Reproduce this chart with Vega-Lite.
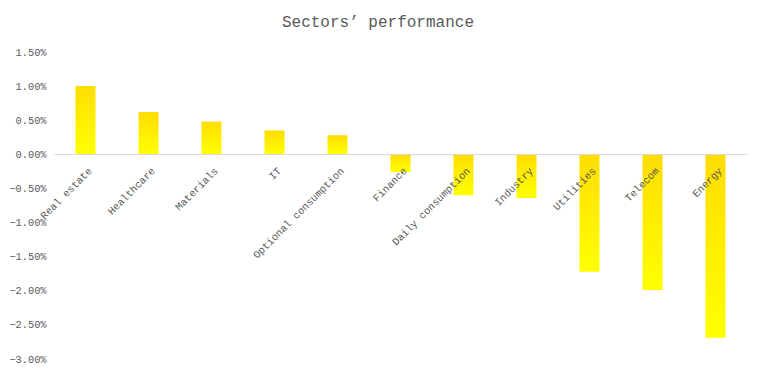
{
  "$schema": "https://vega.github.io/schema/vega-lite/v6.json",
  "autosize": "none",
  "width": 693,
  "height": 307,
  "padding": {"left": 54, "top": 52, "right": 15, "bottom": 16},
  "background": "#ffffff",
  "config": {"view": {"stroke": null}},
  "title": {
    "text": "Sectors’ performance",
    "font": "Liberation Mono",
    "fontSize": 16,
    "fontWeight": "normal",
    "color": "#595959",
    "anchor": "middle",
    "frame": "bounds",
    "offset": 17
  },
  "data": {
    "values": [
      {"sector": "Real estate", "value": 0.0100},
      {"sector": "Healthcare", "value": 0.0062},
      {"sector": "Materials", "value": 0.0048},
      {"sector": "IT", "value": 0.0035},
      {"sector": "Optional consumption", "value": 0.0028},
      {"sector": "Finance", "value": -0.0026},
      {"sector": "Daily consumption", "value": -0.0060},
      {"sector": "Industry", "value": -0.0064},
      {"sector": "Utilities", "value": -0.0172},
      {"sector": "Telecom", "value": -0.0199},
      {"sector": "Energy", "value": -0.0269}
    ]
  },
  "mark": {
    "type": "bar",
    "width": 20,
    "color": {
      "gradient": "linear",
      "x1": 0, "y1": 0, "x2": 0, "y2": 1,
      "stops": [
        {"offset": 0, "color": "#FFDD00"},
        {"offset": 1, "color": "#FFFF00"}
      ]
    }
  },
  "encoding": {
    "x": {
      "field": "sector",
      "type": "nominal",
      "sort": null,
      "scale": {"paddingInner": 0, "paddingOuter": 0},
      "axis": {
        "title": null,
        "offset": -205,
        "domainColor": "#d9d9d9",
        "domainWidth": 1,
        "ticks": false,
        "labelAngle": -45,
        "labelAlign": "right",
        "labelBaseline": "middle",
        "labelPadding": 15,
        "labelOffset": 5,
        "labelFont": "Liberation Mono",
        "labelFontSize": 10.3,
        "labelColor": "#595959",
        "labelOverlap": false,
        "labelLimit": 0,
        "zindex": 1
      }
    },
    "y": {
      "field": "value",
      "type": "quantitative",
      "scale": {"domain": [-0.03, 0.015], "nice": false, "zero": true},
      "axis": {
        "title": null,
        "format": ".2%",
        "values": [0.015, 0.01, 0.005, 0, -0.005, -0.01, -0.015, -0.02, -0.025, -0.03],
        "domain": false,
        "ticks": false,
        "grid": false,
        "labelPadding": 8,
        "labelFont": "Liberation Mono",
        "labelFontSize": 10.3,
        "labelColor": "#595959"
      }
    }
  }
}
